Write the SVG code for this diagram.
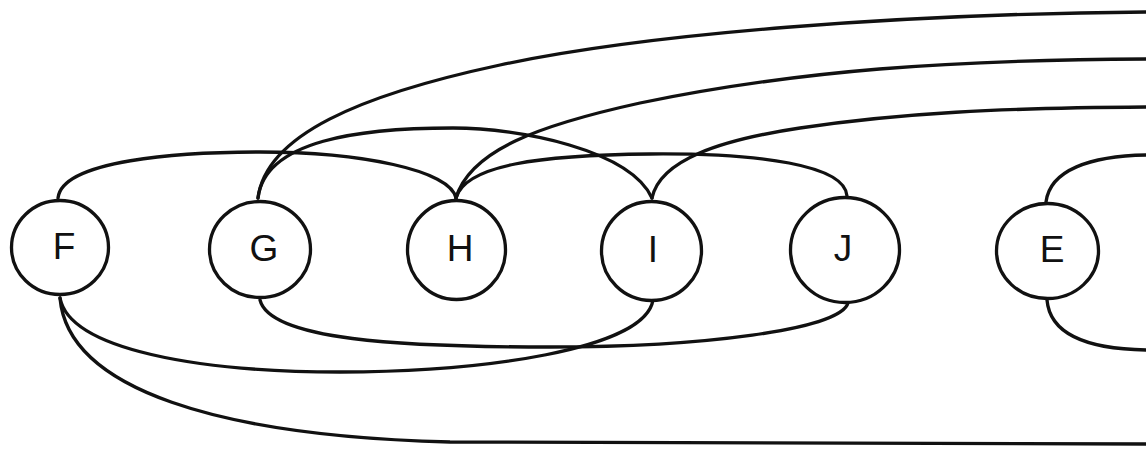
<svg xmlns="http://www.w3.org/2000/svg" width="1146" height="449" viewBox="0 0 1146 449">
<style>
.node ellipse{fill:#fff;stroke:#111;stroke-width:3.3}
.node text{font-family:"Liberation Sans",Arial,sans-serif;font-size:37px;fill:#111;text-anchor:middle}
#edges path{fill:none;stroke:#111;stroke-width:3.3;stroke-linecap:round}
</style>
<rect width="1146" height="449" fill="#fff"/>
<g id="edges">
<path d="M58,198 C62,160 180,152 260,152 C360,152 450,170 456,198"/>
<path d="M258,198 C265,140 360,128 453,128 C520,128 630,150 652,198"/>
<path d="M258,198 C266,135 360,95 500,65 C650,33 900,14 1146,12"/>
<path d="M456,198 C470,150 540,125 640,103 C800,70 950,60 1146,59"/>
<path d="M456,198 C465,165 540,155 650,154 C760,153 845,165 847,196"/>
<path d="M652,198 C660,160 720,140 800,128 C900,113 1000,108 1146,107"/>
<path d="M260,300 C270,340 400,347 550,347 C700,347 840,330 848,303"/>
<path d="M60,298 C70,350 200,372 340,372 C480,372 645,350 653,300"/>
<path d="M60,298 C68,390 220,436 450,442 L1146,444"/>
<path d="M1046,202 C1050,170 1090,156 1146,155"/>
<path d="M1047,300 C1050,335 1090,349 1146,350"/>
</g>
<g id="F" class="node"><ellipse cx="60" cy="247.5" rx="48.5" ry="47"/><text x="64" y="259">F</text></g>
<g id="G" class="node"><ellipse cx="260" cy="249.5" rx="50.5" ry="48"/><text x="264" y="261">G</text></g>
<g id="H" class="node"><ellipse cx="456.5" cy="250" rx="49" ry="49.5"/><text x="460" y="261">H</text></g>
<g id="I" class="node"><ellipse cx="651.5" cy="251" rx="50" ry="49.5"/><text x="653" y="262">I</text></g>
<g id="J" class="node"><ellipse cx="845" cy="250" rx="54.5" ry="52.5"/><text x="843" y="261">J</text></g>
<g id="E" class="node"><ellipse cx="1047.5" cy="251" rx="51" ry="47.5"/><text x="1052" y="262">E</text></g>
</svg>
